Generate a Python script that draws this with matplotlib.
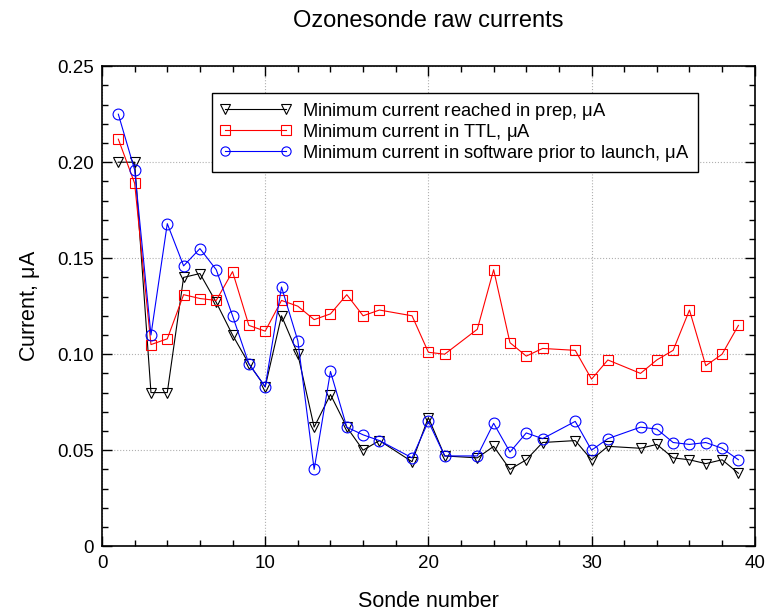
"""Ozonesonde raw currents — three minimum-current series per sonde."""
import matplotlib
matplotlib.use('Agg')
import matplotlib.pyplot as plt
from matplotlib.ticker import MultipleLocator

plt.rcParams['font.family'] = ['Liberation Sans', 'DejaVu Sans']
plt.rcParams['mathtext.fontset'] = 'custom'
plt.rcParams['mathtext.rm'] = 'Liberation Sans'
plt.rcParams['mathtext.it'] = 'Liberation Sans'

# sonde numbers (18, 22, 28, 32 missing)
sonde = [1, 2, 3, 4, 5, 6, 7, 8, 9, 10, 11, 12, 13, 14, 15, 16, 17, 19, 20,
         21, 23, 24, 25, 26, 27, 29, 30, 31, 33, 34, 35, 36, 37, 38, 39]

prep = [0.200, 0.200, 0.080, 0.080, 0.140, 0.142, 0.127, 0.110, 0.095, 0.083,
        0.120, 0.100, 0.062, 0.079, 0.062, 0.050, 0.055, 0.044, 0.067,
        0.047, 0.046, 0.052, 0.040, 0.045, 0.054, 0.055, 0.045, 0.052,
        0.051, 0.053, 0.046, 0.045, 0.043, 0.045, 0.038]

ttl = [0.212, 0.189, 0.105, 0.108, 0.131, 0.129, 0.128, 0.143, 0.115, 0.112,
       0.128, 0.125, 0.118, 0.121, 0.131, 0.120, 0.123, 0.120, 0.101,
       0.100, 0.113, 0.144, 0.106, 0.099, 0.103, 0.102, 0.087, 0.097,
       0.090, 0.097, 0.102, 0.123, 0.094, 0.100, 0.115]

software = [0.225, 0.196, 0.110, 0.168, 0.146, 0.155, 0.144, 0.120, 0.095, 0.083,
            0.135, 0.107, 0.040, 0.091, 0.062, 0.058, 0.055, 0.046, 0.065,
            0.047, 0.047, 0.064, 0.049, 0.059, 0.056, 0.065, 0.050, 0.056,
            0.062, 0.061, 0.054, 0.053, 0.054, 0.051, 0.045]

labels = ['Minimum current reached in prep, $\\mu$A',
          'Minimum current in TTL, $\\mu$A',
          'Minimum current in software prior to launch, $\\mu$A']

fig = plt.figure(figsize=(7.67, 6.13), dpi=100)
ax = fig.add_axes([0.133, 0.109, 0.851, 0.783])

common = dict(linewidth=0.8, markersize=7.8, markerfacecolor='none',
              markeredgewidth=0.8)
ax.plot(sonde, prep, color='black', marker='v', label=labels[0], **common)
ax.plot(sonde, ttl, color='red', marker='s', label=labels[1], **common)
ax.plot(sonde, software, color='blue', marker='o', label=labels[2], **common)

ax.set_xlim(0, 40)
ax.set_ylim(0, 0.25)
ax.xaxis.set_major_locator(MultipleLocator(10))
ax.xaxis.set_minor_locator(MultipleLocator(2))
ax.yaxis.set_major_locator(MultipleLocator(0.05))
ax.yaxis.set_minor_locator(MultipleLocator(0.01))
ax.yaxis.set_major_formatter(plt.FuncFormatter(
    lambda v, p: '0' if v == 0 else f'{v:.2f}'))
ax.tick_params(which='both', direction='in', top=True, right=True,
               labelsize=13.5, width=1)
ax.tick_params(which='major', length=7, pad=6)
ax.tick_params(which='minor', length=4)
for s in ax.spines.values():
    s.set_linewidth(1.2)
ax.grid(True, which='major', linestyle=':', color='#b0b0b0', linewidth=0.8)

ax.set_title('Ozonesonde raw currents', fontsize=17, pad=28)
ax.set_xlabel('Sonde number', fontsize=15.5, labelpad=14)
ax.set_ylabel('Current, $\\mu$A', fontsize=15.5, labelpad=11)

leg = ax.legend(loc='upper left', bbox_to_anchor=(0.168, 0.945),
                borderaxespad=0, numpoints=2, markerscale=0.85,
                handlelength=3.9, handletextpad=0.6,
                fontsize=13.2, labelspacing=0.0, borderpad=0.45,
                fancybox=False, edgecolor='black', framealpha=1)
leg.get_frame().set_linewidth(1.0)

fig.savefig('out.png', dpi=100, facecolor='white')
